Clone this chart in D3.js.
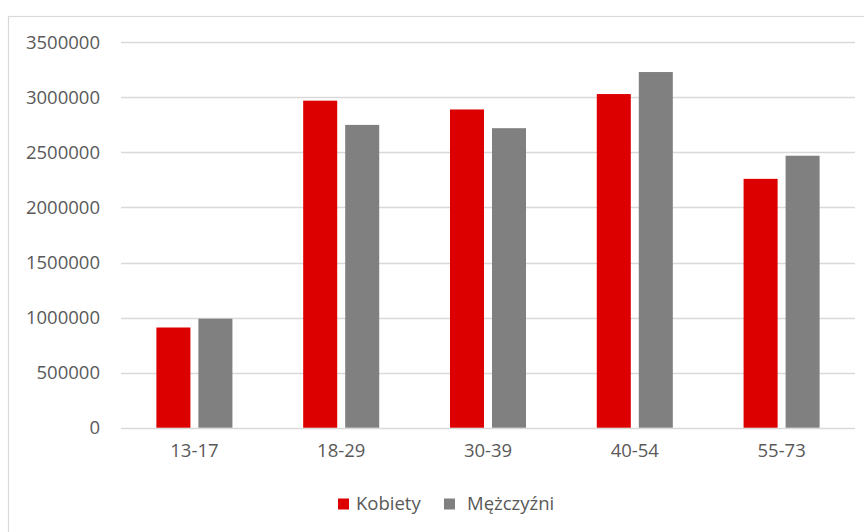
<!DOCTYPE html>
<html>
<head>
<meta charset="utf-8">
<script src="https://cdn.jsdelivr.net/npm/d3@7"></script>
<style>
  html, body { margin: 0; padding: 0; background: #ffffff; }
  svg { display: block; }
  text { font-family: "Open Sans", "Liberation Sans", sans-serif; fill: #595959; }
</style>
</head>
<body>
<svg id="chart" width="864" height="532"></svg>
<script>
const categories = ["13-17", "18-29", "30-39", "40-54", "55-73"];
const seriesNames = ["Kobiety", "Mężczyźni"];
const kobiety = [910000, 2970000, 2890000, 3030000, 2260000];
const mezczyzni = [990000, 2750000, 2720000, 3230000, 2470000];
const yTicks = [0, 500000, 1000000, 1500000, 2000000, 2500000, 3000000, 3500000];
const colors = ["#DC0000", "#808080"];

const seriesValues = [kobiety, mezczyzni];
const data = categories.map((c, i) => ({
  cat: c,
  vals: seriesNames.map((s, j) => ({ key: s, value: seriesValues[j][i] }))
}));

const svg = d3.select("#chart");
const W = 864, H = 532;
const plot = { left: 121, right: 855, top: 42.3, bottom: 427.7 };

// outer chart border (extends past the right/bottom edges like the reference)
svg.append("rect")
  .attr("x", 8.5).attr("y", 16.5)
  .attr("width", W + 20).attr("height", H + 20)
  .attr("fill", "none").attr("stroke", "#d9d9d9").attr("stroke-width", 1.2);

const x0 = d3.scaleBand().domain(categories)
  .range([plot.left, plot.right])
  .paddingInner(0.482).paddingOuter(0.241);
const x1 = d3.scaleBand().domain(seriesNames)
  .range([0, x0.bandwidth()])
  .paddingInner(0.19).paddingOuter(0);
const y = d3.scaleLinear().domain([0, 3500000]).range([plot.bottom, plot.top]);

// gridlines
svg.append("g").selectAll("line").data(yTicks).join("line")
  .attr("x1", plot.left).attr("x2", plot.right)
  .attr("y1", d => Math.round(y(d)) + 0.5).attr("y2", d => Math.round(y(d)) + 0.5)
  .attr("stroke", "#d9d9d9").attr("stroke-width", 1.3);

// y axis labels via d3 axis
const yAxis = d3.axisLeft(y).tickValues(yTicks).tickSize(0).tickPadding(0)
  .tickFormat(d3.format("d"));
const gy = svg.append("g").attr("transform", "translate(100,0)").call(yAxis);
gy.select(".domain").remove();
gy.selectAll("text").attr("font-size", "18.5px")
  .attr("font-family", "'Open Sans', sans-serif").attr("fill", "#595959");

// bars
const groups = svg.append("g").selectAll("g").data(data).join("g")
  .attr("transform", d => `translate(${x0(d.cat)},0)`);
groups.selectAll("rect").data(d => d.vals).join("rect")
  .attr("x", d => x1(d.key))
  .attr("width", x1.bandwidth())
  .attr("y", d => y(d.value))
  .attr("height", d => y(0) - y(d.value))
  .attr("fill", (d, i) => colors[i]);

// x axis labels via d3 axis
const xAxis = d3.axisBottom(x0).tickSize(0).tickPadding(0);
const gx = svg.append("g").attr("transform", `translate(0,${plot.bottom + 16})`).call(xAxis);
gx.select(".domain").remove();
gx.selectAll("text").attr("font-size", "18.5px")
  .attr("font-family", "'Open Sans', sans-serif").attr("fill", "#595959");

// legend
const legendItems = [
  { name: seriesNames[0], color: colors[0], sx: 338, tx: 356 },
  { name: seriesNames[1], color: colors[1], sx: 444, tx: 467 }
];
const lg = svg.append("g");
legendItems.forEach(it => {
  lg.append("rect").attr("x", it.sx).attr("y", 498.5).attr("width", 11).attr("height", 11)
    .attr("fill", it.color);
  lg.append("text").attr("x", it.tx).attr("y", 504).attr("dy", "0.35em")
    .attr("font-size", "18.5px").text(it.name);
});
</script>
</body>
</html>
